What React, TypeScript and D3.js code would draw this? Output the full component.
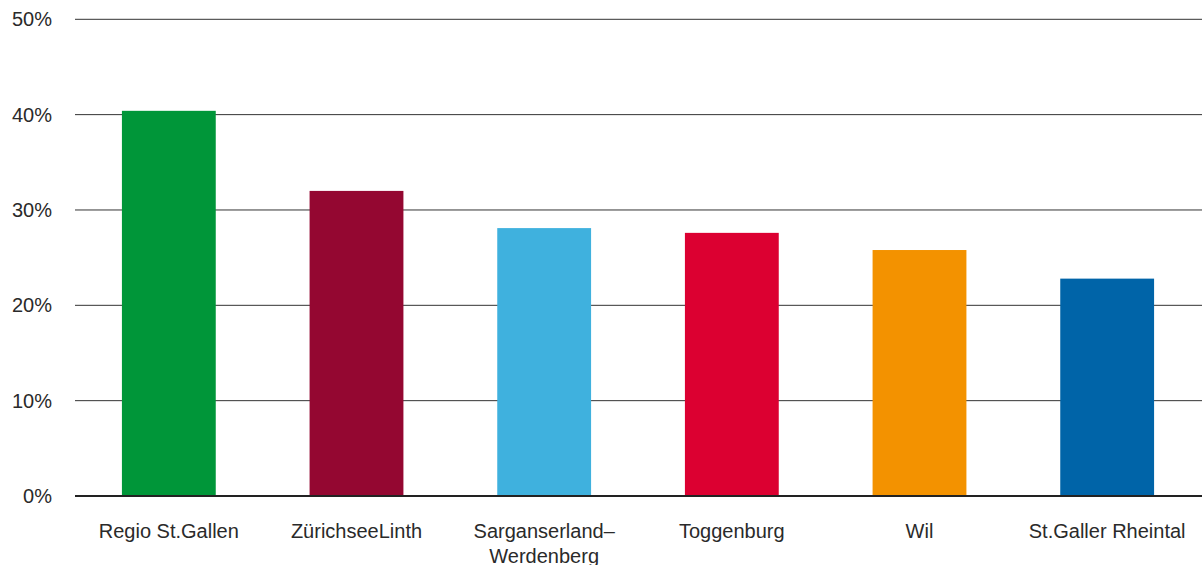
import React from "react";
import * as d3 from "d3";

const categories: string[][] = [
  ["Regio St.Gallen"],
  ["ZürichseeLinth"],
  ["Sarganserland–", "Werdenberg"],
  ["Toggenburg"],
  ["Wil"],
  ["St.Galler Rheintal"],
];
const values: number[] = [40.4, 32.0, 28.1, 27.6, 25.8, 22.8];
const colors: string[] = ["#009639", "#940731", "#3fb1de", "#dc0031", "#f39200", "#0064a8"];
const yTicks: number[] = [0, 10, 20, 30, 40, 50];

const W = 1202;
const H = 565;

export default function App() {
  const keys = categories.map((c) => c.join(" "));
  const x = d3.scaleBand<string>().domain(keys).range([75, 1201]).paddingInner(0.5).paddingOuter(0.25);
  const y = d3.scaleLinear().domain([0, 50]).range([496, 19.3]);
  const font = "'Liberation Sans', Arial, Helvetica, sans-serif";
  return (
    <svg
      width={W}
      height={H}
      style={{ position: "absolute", left: 0, top: 0, background: "#fff" }}
      fontFamily={font}
    >
      {yTicks.map((t) => (
        <g key={t}>
          {t > 0 && (
            <line x1={75} x2={W} y1={y(t)} y2={y(t)} stroke="#333" strokeWidth={1} />
          )}
          <text x={52} y={y(t)} dy="0.35em" textAnchor="end" fontSize={20} fill="#2a2a2a">
            {t}%
          </text>
        </g>
      ))}
      {keys.map((k, i) => (
        <rect
          key={k}
          x={x(k)}
          y={y(values[i])}
          width={x.bandwidth()}
          height={y(0) - y(values[i])}
          fill={colors[i]}
        />
      ))}
      <line x1={75} x2={W} y1={y(0)} y2={y(0)} stroke="#222" strokeWidth={2} />
      {keys.map((k, i) => (
        <text
          key={k}
          x={(x(k) as number) + x.bandwidth() / 2}
          y={531}
          textAnchor="middle"
          fontSize={20}
          fill="#2a2a2a"
        >
          {categories[i].map((line, j) => (
            <tspan key={j} x={(x(k) as number) + x.bandwidth() / 2} dy={j === 0 ? "0.35em" : "1.25em"}>
              {line}
            </tspan>
          ))}
        </text>
      ))}
    </svg>
  );
}
